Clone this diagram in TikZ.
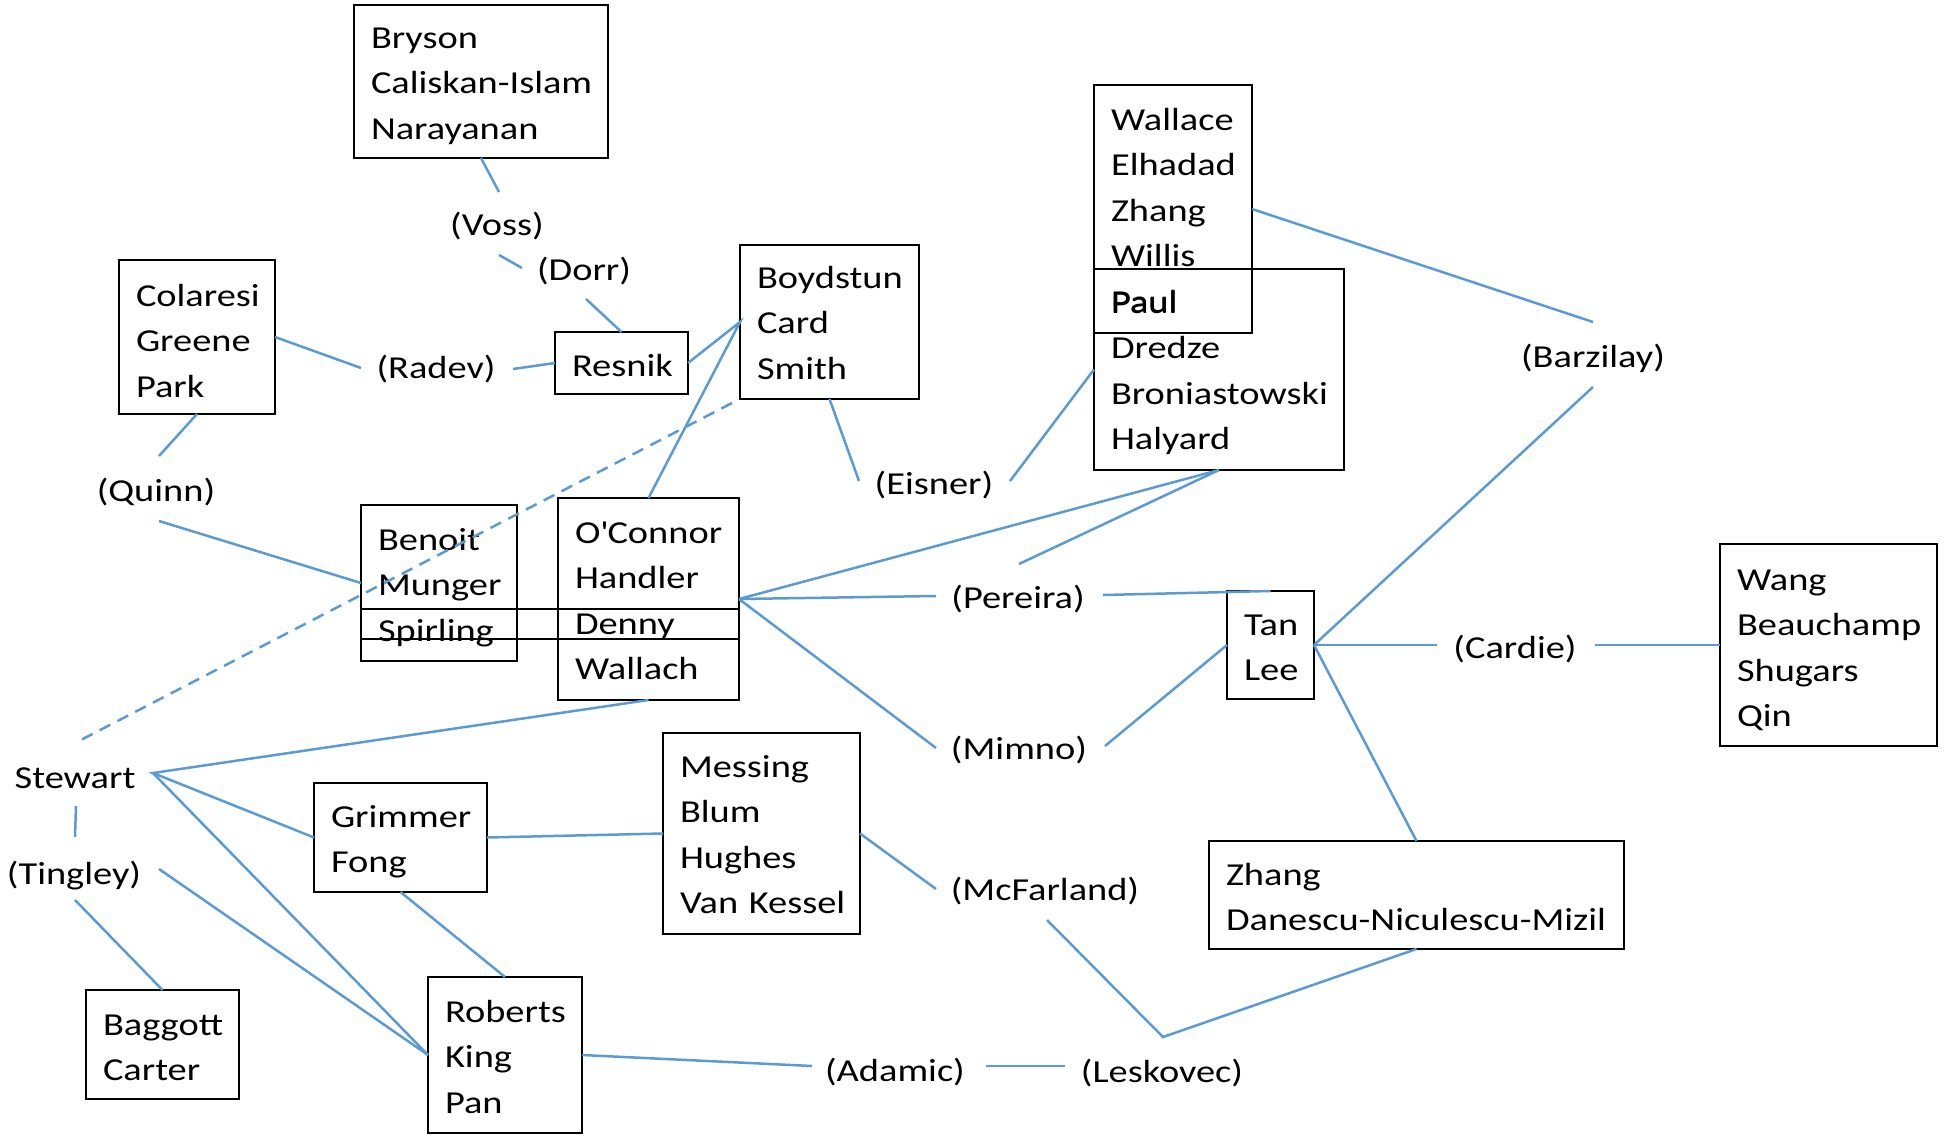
\documentclass[tikz,border=0pt]{standalone}
\usepackage{fontspec}
\setmainfont{Carlito}[FakeStretch=1.2]
\usetikzlibrary{calc}
\definecolor{lnk}{RGB}{91,155,213}
\newcommand{\boxfont}{\fontsize{16pt}{22.8pt}\selectfont\hyphenpenalty=10000\exhyphenpenalty=10000}
\tikzset{
  box/.style n args={3}{draw, line width=1.25pt, outer sep=0pt, inner xsep=8.5pt, inner ysep=0pt,
    anchor=north west, align=left, text width=#1, text height=#2, text depth=#3, font=\boxfont},
  lbl/.style={inner sep=0pt, outer sep=0pt, anchor=base, font=\boxfont},
  conn/.style={draw=lnk, line width=1.25pt},
  dconn/.style={conn, dash pattern=on 6pt off 4pt},
}
\begin{document}
\begin{tikzpicture}[x=0.5pt, y=-0.5pt]
\useasboundingbox (0,0) rectangle (1944,1135);

% boxes
\node[box={110pt}{21.5pt}{55pt}] (bryson) at (354,5) {Bryson\\Caliskan-Islam\\Narayanan};
\node[box={61pt}{23pt}{54pt}] (colaresi) at (119,260) {Colaresi\\Greene\\Park};
\node[box={49.5pt}{22pt}{9pt}] (resnik) at (555,332) {Resnik};
\node[box={72.5pt}{21.5pt}{55.5pt}] (boydstun) at (740,245) {Boydstun\\Card\\Smith};
\node[box={108pt}{22pt}{78.5pt}] (dredze) at (1094,269) {Paul\\Dredze\\Broniastowski\\Halyard};
\node[box={62pt}{22.5pt}{101.5pt}] (wallace) at (1094,85) {Wallace\\Elhadad\\Zhang\\Willis\\Paul};
\node[box={61pt}{22.5pt}{55.5pt}] (benoit) at (361,505) {Benoit\\Munger\\Spirling};
\node[box={73.5pt}{22.5pt}{78.5pt}] (oconnor) at (558,498) {O\textquotesingle Connor\\Handler\\Denny\\Wallach};
\draw[line width=1.25pt] (361,609) rectangle (739,639);
\node[box={26.5pt}{22pt}{32pt}] (tan) at (1227,591) {Tan\\Lee};
\node[box={91.5pt}{23pt}{78pt}] (wang) at (1720,544) {Wang\\Beauchamp\\Shugars\\Qin};
\node[box={190.5pt}{22pt}{32pt}] (zhangd) at (1209,841) {Zhang\\Danescu-Niculescu-Mizil};
\node[box={69.5pt}{22pt}{32.5pt}] (grimmer) at (314,783) {Grimmer\\Fong};
\node[box={81.5pt}{22pt}{78.5pt}] (messing) at (663,733) {Messing\\Blum\\Hughes\\Van~Kessel};
\node[box={60pt}{22.5pt}{55.5pt}] (roberts) at (428,977) {Roberts\\King\\Pan};
\node[box={59.5pt}{22.5pt}{32pt}] (baggott) at (86,990) {Baggott\\Carter};

% labels
\node[lbl] (voss) at (497,235) {(Voss)};
\node[lbl] (dorr) at (584,280) {(Dorr)};
\node[lbl] (radev) at (436,378) {(Radev)};
\node[lbl] (quinn) at (156,501) {(Quinn)};
\node[lbl] (eisner) at (934,494) {(Eisner)};
\node[lbl] (barzilay) at (1593,367) {(Barzilay)};
\node[lbl] (pereira) at (1018,608) {(Pereira)};
\node[lbl] (mimno) at (1019,759) {(Mimno)};
\node[lbl] (cardie) at (1515,658) {(Cardie)};
\node[lbl] (mcfarland) at (1045,900) {(McFarland)};
\node[lbl] (adamic) at (895,1081) {(Adamic)};
\node[lbl] (leskovec) at (1162,1082) {(Leskovec)};
\node[lbl] (stewart) at (75,788) {Stewart};
\node[lbl] (tingley) at (74,884) {(Tingley)};

% connectors
\draw[conn] (bryson.south) -- ($(voss.base)+(2,-43)$);
\draw[conn] ($(voss.base)+(2,20)$) -- ($(dorr.base)+(-62,-12)$);
\draw[conn] ($(dorr.base)+(2,19)$) -- (resnik.north);
\draw[conn] ($(radev.base)+(77,-9)$) -- (resnik.west);
\draw[conn] (colaresi.east) -- ($(radev.base)+(-75,-10)$);
\draw[conn] (colaresi.south) -- ($(quinn.base)+(3,-45)$);
\draw[conn] ($(quinn.base)+(3,20)$) -- (benoit.west);
\draw[conn] (resnik.east) -- (boydstun.west) -- (oconnor.north);
\draw[dconn] ($(boydstun.south west)+(-8,4)$) -- ($(stewart.base)+(2,-46)$);
\draw[conn] (boydstun.south) -- ($(eisner.base)+(-75,-13)$);
\draw[conn] ($(eisner.base)+(76,-13)$) -- (dredze.west);
\draw[conn] (wallace.east) -- ($(barzilay.base)+(0,-45)$);
\draw[conn] ($(barzilay.base)+(0,20)$) -- (tan.east);
\draw[conn] (oconnor.east) -- (dredze.south);
\draw[conn] ($(pereira.base)+(1,-44)$) -- (dredze.south);
\draw[conn] (oconnor.east) -- ($(pereira.base)+(-82,-12)$);
\draw[conn] ($(pereira.base)+(85,-13)$) -- (tan.north);
\draw[conn] (oconnor.east) -- ($(mimno.base)+(-83,-11)$);
\draw[conn] ($(mimno.base)+(86,-13)$) -- (tan.west);
\draw[conn] (tan.east) -- ($(cardie.base)+(-78,-13)$);
\draw[conn] ($(cardie.base)+(80,-13)$) -- (wang.west);
\draw[conn] (tan.east) -- (zhangd.north);
\coordinate (lk) at ($(leskovec.base)+(1,-45)$);
\draw[conn] (zhangd.south) -- (lk) -- ($(mcfarland.base)+(2,20)$);
\draw[conn] (messing.east) -- ($(mcfarland.base)+(-109,-11)$);
\coordinate (sw) at ($(stewart.base)+(78,-15)$);
\draw[conn] (oconnor.south) -- (sw) -- (grimmer.west);
\draw[conn] (sw) -- (roberts.west);
\draw[conn] ($(stewart.base)+(1,18)$) -- ($(tingley.base)+(1,-47)$);
\draw[conn] ($(tingley.base)+(85,-15)$) -- (roberts.west);
\draw[conn] ($(tingley.base)+(1,16)$) -- (baggott.north);
\draw[conn] (grimmer.east) -- (messing.west);
\draw[conn] (grimmer.south) -- (roberts.north);
\draw[conn] (roberts.east) -- ($(adamic.base)+(-83,-15)$);
\draw[conn] ($(adamic.base)+(91,-15)$) -- ($(leskovec.base)+(-97,-16)$);
\end{tikzpicture}
\end{document}
